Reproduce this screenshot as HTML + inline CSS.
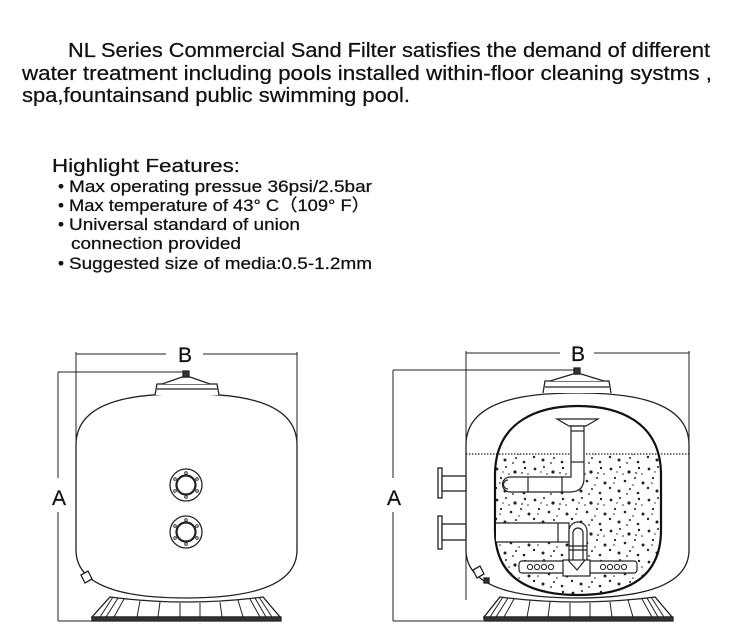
<!DOCTYPE html>
<html><head><meta charset="utf-8"><style>
html,body{margin:0;padding:0;background:#fff;}
svg{display:block;}
text{font-family:"Liberation Sans",Arial,sans-serif;fill:#111;stroke:#111;stroke-width:0.25;}
</style></head><body>
<svg width="750" height="642" viewBox="0 0 750 642" xmlns="http://www.w3.org/2000/svg">
<defs>
<pattern id="sp" width="38" height="31" patternUnits="userSpaceOnUse">
<g fill="#222">
<circle cx="3" cy="4" r="1.4"/><circle cx="12" cy="2" r="1"/><circle cx="21" cy="7" r="1.6"/><circle cx="31" cy="3" r="1.2"/>
<circle cx="7" cy="13" r="1.1"/><circle cx="17" cy="16" r="1.3"/><circle cx="27" cy="13" r="1"/><circle cx="35" cy="18" r="1.5"/>
<circle cx="2" cy="23" r="1.2"/><circle cx="11" cy="26" r="1.5"/><circle cx="22" cy="24" r="1"/><circle cx="30" cy="28" r="1.3"/>
<circle cx="15" cy="9" r="0.8"/><circle cx="25" cy="20" r="0.8"/><circle cx="6" cy="18" r="0.8"/><circle cx="34" cy="9" r="0.8"/>
<circle cx="19" cy="29" r="0.9"/><circle cx="9" cy="7" r="0.7"/><circle cx="28" cy="8" r="0.9"/>
</g></pattern>
<clipPath id="ch"><path d="M495,475 C495,420 540,406 578,406 C616,406 661,420 661,475 L661,530 C661,585 616,595 578,595 C540,595 495,585 495,530 Z"/></clipPath>
</defs>

<text x="68" y="57" font-size="20" textLength="642" lengthAdjust="spacingAndGlyphs">NL Series Commercial Sand Filter satisfies the demand of different</text>
<text x="22" y="80" font-size="20" textLength="690" lengthAdjust="spacingAndGlyphs">water treatment including pools installed within-floor cleaning  systms ,</text>
<text x="22" y="102" font-size="20" textLength="388" lengthAdjust="spacingAndGlyphs">spa,fountainsand public swimming pool.</text>

<text x="52" y="172" font-size="18" textLength="188" lengthAdjust="spacingAndGlyphs">Highlight  Features:</text>
<g font-size="17">
<text x="58" y="192">•</text><text x="69" y="192" textLength="303" lengthAdjust="spacingAndGlyphs">Max operating pressue 36psi/2.5bar</text>
<text x="58" y="211">•</text><text x="69" y="211" textLength="301" lengthAdjust="spacingAndGlyphs">Max temperature of 43°  C（109°  F）</text>
<text x="58" y="230">•</text><text x="69" y="230" textLength="231" lengthAdjust="spacingAndGlyphs">Universal standard of union</text>
<text x="71" y="249" textLength="170" lengthAdjust="spacingAndGlyphs">connection provided</text>
<text x="58" y="269">•</text><text x="69" y="269" textLength="303" lengthAdjust="spacingAndGlyphs">Suggested size of media:0.5-1.2mm</text>
</g>

<!-- LEFT TANK -->
<g stroke="#222" fill="none" stroke-width="1">
<line x1="76" y1="354" x2="166" y2="354"/><line x1="203" y1="354" x2="297" y2="354"/>
<line x1="76" y1="352" x2="76" y2="440"/><line x1="297" y1="352" x2="297" y2="445"/>
<line x1="58" y1="372" x2="186" y2="372"/><line x1="58" y1="621" x2="92" y2="621"/>
<line x1="58" y1="372" x2="58" y2="478"/><line x1="58" y1="512" x2="58" y2="621"/>
</g>
<text x="185" y="362" font-size="21" text-anchor="middle" stroke-width="0">B</text>
<text x="59" y="505" font-size="21" text-anchor="middle" stroke-width="0">A</text>
<g stroke="#222" stroke-width="1.3" fill="#fff">
<path d="M76,445 C76,395 150,394 186,394 C222,394 297,395 297,445 L297,550 C297,595 222,598 186,598 C150,598 76,595 76,550 Z"/>
<path d="M155,395 L157,384 L217,384 L219,395"/>
<path d="M162,384 L182,377 L190,377 L210,384" />
<line x1="157" y1="389" x2="217" y2="389"/>
<rect x="183" y="371" width="6" height="6" fill="#333"/>
<circle cx="186" cy="485" r="16"/><circle cx="186" cy="485" r="9.5" stroke-width="2.2"/>
<circle cx="186" cy="532" r="16"/><circle cx="186" cy="532" r="9.5" stroke-width="2.2"/>
<path d="M81,575 L88,571 L92,579 L85,583 Z" fill="#fff"/>
<path d="M110,597 Q186,607 263,597 L280,617 L92,617 Z"/>
<rect x="92" y="617" width="189" height="4" fill="#333"/>
</g>
<g fill="#fff" stroke="#222" stroke-width="0.9">
<circle cx="186" cy="473" r="1.3"/><circle cx="186" cy="497" r="1.3"/><circle cx="175" cy="479" r="1.3"/><circle cx="197" cy="479" r="1.3"/><circle cx="175" cy="491" r="1.3"/><circle cx="197" cy="491" r="1.3"/>
<circle cx="186" cy="520" r="1.3"/><circle cx="186" cy="544" r="1.3"/><circle cx="175" cy="526" r="1.3"/><circle cx="197" cy="526" r="1.3"/><circle cx="175" cy="538" r="1.3"/><circle cx="197" cy="538" r="1.3"/>
</g>
<g stroke="#222" stroke-width="1">
<line x1="113" y1="597" x2="100" y2="617"/><line x1="118" y1="598" x2="106" y2="617"/><line x1="124" y1="599" x2="114" y2="617"/>
<line x1="140" y1="601" x2="137" y2="617"/><line x1="160" y1="602" x2="158" y2="617"/><line x1="180" y1="603" x2="180" y2="617"/><line x1="200" y1="603" x2="200" y2="617"/><line x1="220" y1="602" x2="222" y2="617"/><line x1="238" y1="600" x2="243" y2="617"/>
<line x1="250" y1="599" x2="260" y2="617"/><line x1="255" y1="598" x2="266" y2="617"/><line x1="259" y1="597" x2="272" y2="617"/>
</g>

<!-- RIGHT TANK -->
<g stroke="#222" fill="none" stroke-width="1">
<line x1="466" y1="353" x2="560" y2="353"/><line x1="594" y1="353" x2="689" y2="353"/>
<line x1="466" y1="351" x2="466" y2="600"/><line x1="689" y1="351" x2="689" y2="445"/>
<line x1="393" y1="370" x2="577" y2="370"/><line x1="393" y1="621" x2="483" y2="621"/>
<line x1="393" y1="370" x2="393" y2="478"/><line x1="393" y1="512" x2="393" y2="621"/>
</g>
<text x="578" y="361" font-size="21" text-anchor="middle" stroke-width="0">B</text>
<text x="394" y="505" font-size="21" text-anchor="middle" stroke-width="0">A</text>
<g stroke="#222" stroke-width="1.3" fill="#fff">
<path d="M466,445 C466,395 541,393 577,393 C613,393 689,395 689,445 L689,550 C689,595 613,598 577,598 C541,598 466,595 466,550 Z"/>
<path d="M543,393 L545,381 L609,381 L611,393"/>
<path d="M550,381 L573,374 L581,374 L604,381"/>
<line x1="545" y1="387" x2="609" y2="387"/>
<rect x="574" y="368" width="6" height="6" fill="#333"/>
<rect x="438" y="468" width="4" height="30"/><rect x="442" y="476" width="24" height="15"/>
<rect x="438" y="516" width="4" height="33"/><rect x="442" y="524" width="24" height="16"/>
<path d="M473,570 L480,566 L484,574 L477,578 Z"/><rect x="484" y="578" width="5" height="5" fill="#333"/>
<path d="M500,597 Q577,607 655,597 L672,617 L484,617 Z"/>
<rect x="484" y="617" width="189" height="4" fill="#333"/>
</g>
<g stroke="#222" stroke-width="1">
<line x1="503" y1="597" x2="490" y2="617"/><line x1="508" y1="598" x2="496" y2="617"/><line x1="514" y1="599" x2="504" y2="617"/>
<line x1="530" y1="601" x2="527" y2="617"/><line x1="550" y1="602" x2="548" y2="617"/><line x1="570" y1="603" x2="570" y2="617"/><line x1="590" y1="603" x2="590" y2="617"/><line x1="610" y1="602" x2="612" y2="617"/><line x1="628" y1="600" x2="633" y2="617"/>
<line x1="642" y1="599" x2="652" y2="617"/><line x1="647" y1="598" x2="658" y2="617"/><line x1="651" y1="597" x2="664" y2="617"/>
</g>
<rect x="466" y="454" width="223" height="150" fill="url(#sp)" clip-path="url(#ch)"/>
<line x1="466" y1="454" x2="689" y2="454" stroke="#222" stroke-width="1.2" stroke-dasharray="1.5,1.5"/>
<path d="M495,475 C495,420 540,406 578,406 C616,406 661,420 661,475 L661,530 C661,585 616,595 578,595 C540,595 495,585 495,530 Z" fill="none" stroke="#111" stroke-width="2.2"/>
<!-- pipes -->
<g stroke="#222" stroke-width="1.2" fill="#fff">
<path d="M557,419 L598,419 L586,426 L569,426 Z"/>
<path d="M571,426 L584,426 L584,478 Q584,492 570,492 L510,492 A7.5,7.5 0 0 1 510,477 L571,477 Z"/>
<line x1="571" y1="431" x2="584" y2="431"/><line x1="571" y1="462" x2="584" y2="462"/><line x1="528" y1="477" x2="528" y2="492"/><line x1="562" y1="477" x2="562" y2="492"/>
<path d="M508,480 A4.5,4.5 0 0 0 508,489" fill="none"/>
<path d="M496,523 L569,523 L569,542 L496,542"/>
<line x1="558" y1="523" x2="558" y2="542"/>
<path d="M569,563 L569,531 A9,9 0 0 1 587,531 L587,563 Z"/>
<path d="M573,563 L573,533 A5,5 0 0 1 583,533 L583,563" fill="none"/>
<line x1="569" y1="546" x2="587" y2="546"/><line x1="569" y1="550" x2="587" y2="550"/>
<rect x="519" y="561" width="118" height="12" rx="3"/>
<rect x="563" y="560" width="27" height="16"/>
<path d="M568,560 L577,570 L585,560" fill="none"/>
</g>
<g fill="#fff" stroke="#222" stroke-width="1">
<circle cx="530" cy="567" r="2.6"/><circle cx="537" cy="567" r="2.6"/><circle cx="544" cy="567" r="2.6"/><circle cx="551" cy="567" r="2.6"/>
<circle cx="603" cy="567" r="2.6"/><circle cx="610" cy="567" r="2.6"/><circle cx="617" cy="567" r="2.6"/><circle cx="624" cy="567" r="2.6"/>
</g>
</svg>
</body></html>
